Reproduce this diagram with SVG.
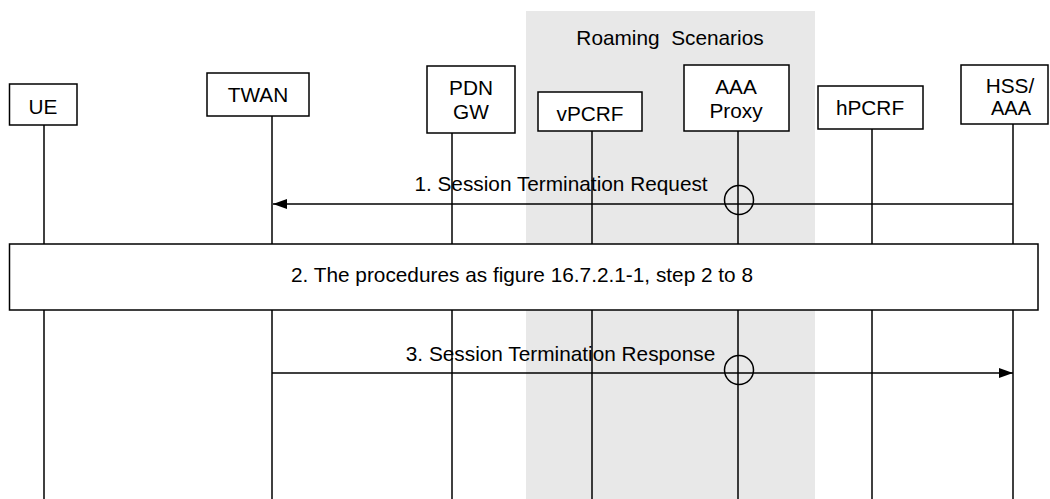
<svg xmlns="http://www.w3.org/2000/svg" width="1050" height="499" viewBox="0 0 1050 499">
<style>
text{font-family:"Liberation Sans",Arial,sans-serif;font-size:20.8px;fill:#000;text-anchor:middle}
.box{fill:#fff;stroke:#000;stroke-width:1.5}
.life{stroke:#000;stroke-width:1.5;fill:none}
.msg{stroke:#000;stroke-width:1.5;fill:none}
.cir{fill:none;stroke:#000;stroke-width:1.5}
</style>
<defs>
<marker id="arr" viewBox="0 0 14 10" refX="14" refY="5" markerWidth="14" markerHeight="10" markerUnits="userSpaceOnUse" orient="auto">
<path d="M0,0 L14,5 L0,10 Z" fill="#000"/>
</marker>
</defs>
<rect x="0" y="0" width="1050" height="499" fill="#fff"/>
<g id="roaming">
<rect x="526" y="11" width="289" height="488" fill="#e8e8e8"/>
<text x="670" y="45" xml:space="preserve">Roaming  Scenarios</text>
</g>
<g id="lifelines">
<line class="life" x1="44" y1="125" x2="44" y2="499"/>
<line class="life" x1="272" y1="116" x2="272" y2="499"/>
<line class="life" x1="452" y1="133" x2="452" y2="499"/>
<line class="life" x1="592" y1="131" x2="592" y2="499"/>
<line class="life" x1="738" y1="131" x2="738" y2="499"/>
<line class="life" x1="872" y1="129" x2="872" y2="499"/>
<line class="life" x1="1013" y1="124" x2="1013" y2="499"/>
</g>
<g id="UE">
<rect class="box" x="9.5" y="84" width="67.5" height="41"/>
<text x="43" y="114">UE</text>
</g>
<g id="TWAN">
<rect class="box" x="207" y="73" width="102" height="43"/>
<text x="258" y="102">TWAN</text>
</g>
<g id="PDNGW">
<rect class="box" x="427" y="66" width="88" height="67"/>
<text x="471" y="95">PDN</text>
<text x="471" y="119">GW</text>
</g>
<g id="vPCRF">
<rect class="box" x="538" y="92" width="104" height="39"/>
<text x="590" y="121">vPCRF</text>
</g>
<g id="AAAProxy">
<rect class="box" x="684" y="65" width="105" height="66"/>
<text x="736" y="94">AAA</text>
<text x="736" y="118">Proxy</text>
</g>
<g id="hPCRF">
<rect class="box" x="818" y="86" width="105" height="43"/>
<text x="870" y="115">hPCRF</text>
</g>
<g id="HSSAAA">
<rect class="box" x="961" y="65" width="87" height="59"/>
<text x="1010" y="93">HSS/</text>
<text x="1011" y="115" style="font-size:20px">AAA</text>
</g>
<g id="step2">
<rect class="box" x="9.5" y="244" width="1028.5" height="66"/>
<text x="522" y="282">2. The procedures as figure 16.7.2.1-1, step 2 to 8</text>
</g>
<g id="connectors">
<line class="msg" x1="1013" y1="204" x2="273" y2="204" marker-end="url(#arr)"/>
<circle class="cir" cx="739" cy="200" r="14.5"/>
<text x="561" y="191">1. Session Termination Request</text>
<line class="msg" x1="272" y1="373" x2="1013" y2="373" marker-end="url(#arr)"/>
<circle class="cir" cx="739" cy="370" r="14.5"/>
<text x="560.5" y="361">3. Session Termination Response</text>
</g>
</svg>
